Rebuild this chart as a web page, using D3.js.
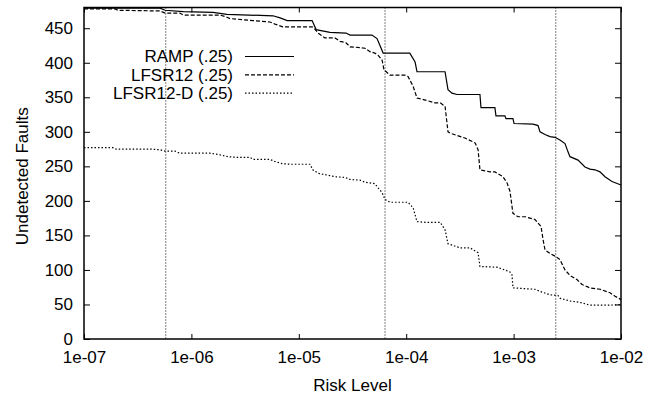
<!DOCTYPE html>
<head>
  <style>
    body { margin: 0; background: #fff; }
    text { font-family: "Liberation Sans", Arial, sans-serif; fill: #000; }
  </style>
<title>Undetected Faults vs Risk Level</title>
</head>

<body>

  <script src="https://cdn.jsdelivr.net/npm/d3@7"></script>

  <script>
    // data: [risk level, undetected faults]
    const rampData = [
      [1e-7, 479], [5.1e-7, 479], [5.7e-7, 476], [8.4e-7, 474], [1.59e-6, 473],
      [2.14e-6, 470], [5.75e-6, 468], [6.7e-6, 465], [7.8e-6, 461], [1.33e-5, 461],
      [1.45e-5, 448], [1.95e-5, 444], [2.75e-5, 443], [3.0e-5, 440], [4.8e-5, 440],
      [5.35e-5, 435], [6.1e-5, 414], [1.08e-4, 414], [1.21e-4, 401], [1.26e-4, 387],
      [2.3e-4, 387], [2.45e-4, 361], [2.67e-4, 356], [2.97e-4, 354], [4.86e-4, 354],
      [4.97e-4, 335], [6.7e-4, 335], [6.85e-4, 323], [8.3e-4, 323], [8.5e-4, 319],
      [9.86e-4, 319], [1.01e-3, 312], [1.52e-3, 311], [1.69e-3, 309], [1.76e-3, 300],
      [1.96e-3, 296], [2.18e-3, 293], [2.43e-3, 292], [2.7e-3, 288], [3.01e-3, 283],
      [3.21e-3, 271], [3.35e-3, 264], [3.98e-3, 259], [4.62e-3, 249], [5.14e-3, 246],
      [5.73e-3, 245], [6.37e-3, 242], [7.1e-3, 235], [8.24e-3, 228], [1e-2, 223]
    ];

    const lfsrData = [
      [1e-7, 478], [1.95e-7, 478], [2.07e-7, 476], [5.1e-7, 475], [5.7e-7, 472],
      [7.8e-7, 472], [8.4e-7, 469], [1.85e-6, 469], [2.06e-6, 467], [2.29e-6, 464],
      [3.75e-6, 461], [5.4e-6, 459], [6.0e-6, 456], [7.1e-6, 452], [1.33e-5, 452],
      [1.39e-5, 450], [1.51e-5, 443], [1.75e-5, 436], [2.17e-5, 436], [2.42e-5, 431],
      [2.75e-5, 429], [3.0e-5, 423], [3.72e-5, 422], [4.13e-5, 421], [4.6e-5, 416],
      [5.1e-5, 414], [5.46e-5, 411], [5.96e-5, 404], [6.2e-5, 390], [7.06e-5, 382],
      [9.75e-5, 382], [1.04e-4, 380], [1.16e-4, 366], [1.26e-4, 349], [1.5e-4, 346],
      [1.85e-4, 342], [2.07e-4, 342], [2.3e-4, 337], [2.45e-4, 300], [2.56e-4, 298],
      [3.52e-4, 291], [4.38e-4, 284], [4.67e-4, 274], [4.86e-4, 245], [6.03e-4, 242],
      [6.7e-4, 242], [7.96e-4, 235], [8.69e-4, 226], [9.25e-4, 214], [9.86e-4, 182],
      [1.1e-3, 177], [1.28e-3, 177], [1.58e-3, 173], [1.8e-3, 163], [1.88e-3, 144],
      [1.96e-3, 129], [2.18e-3, 124], [2.43e-3, 120], [2.7e-3, 115], [3.01e-3, 100],
      [3.35e-3, 92], [3.89e-3, 86], [4.34e-3, 79], [5.14e-3, 74], [6.37e-3, 72],
      [7.9e-3, 67], [8.8e-3, 62], [1e-2, 57]
    ];

    const lfsrDData = [
      [1e-7, 277], [1.86e-7, 277], [1.99e-7, 275], [4.12e-7, 275], [5.1e-7, 274],
      [5.7e-7, 272], [7.03e-7, 272], [7.8e-7, 269], [1.49e-6, 269], [1.66e-6, 268],
      [1.93e-6, 266], [2.19e-6, 264], [2.66e-6, 263], [3.52e-6, 263], [3.75e-6, 260],
      [5.4e-6, 260], [6.0e-6, 257], [6.98e-6, 254], [8.28e-6, 253], [1.27e-5, 253],
      [1.35e-5, 245], [1.51e-5, 240], [1.75e-5, 238], [2.17e-5, 235], [2.69e-5, 234],
      [3.0e-5, 231], [3.72e-5, 230], [4.13e-5, 227], [5.1e-5, 225], [5.46e-5, 219],
      [5.96e-5, 212], [6.35e-5, 202], [7.06e-5, 198], [1.04e-4, 198], [1.16e-4, 190],
      [1.26e-4, 170], [1.5e-4, 169], [2.07e-4, 169], [2.3e-4, 158], [2.45e-4, 138],
      [3.17e-4, 132], [3.93e-4, 132], [4.67e-4, 125], [4.86e-4, 105], [7.0e-4, 104],
      [8.3e-4, 100], [9.25e-4, 97], [9.66e-4, 93], [9.86e-4, 74], [1.58e-3, 72],
      [1.76e-3, 69], [2.18e-3, 64], [2.59e-3, 63], [2.7e-3, 59], [3.35e-3, 55],
      [4.15e-3, 53], [5.14e-3, 49], [7.9e-3, 49], [1e-2, 50]
    ];

    // vertical reference lines
    const markerRisks = [5.77e-7, 6.35e-5, 2.47e-3];

    const seriesNames = ["RAMP (.25)", "LFSR12 (.25)", "LFSR12-D (.25)"];
    const xTicks = [1e-7, 1e-6, 1e-5, 1e-4, 1e-3, 1e-2];
    const xTickLabels = ["1e-07", "1e-06", "1e-05", "1e-04", "1e-03", "1e-02"];
    const yTicks = [0, 50, 100, 150, 200, 250, 300, 350, 400, 450];

    // dimensions
    const margin = { top: 7.5, right: 35, bottom: 55, left: 84 };
    const width = 656 - margin.left - margin.right;
    const height = 394 - margin.top - margin.bottom;

    const x = d3.scaleLog().domain([1e-7, 1e-2]).range([0, width]);
    const y = d3.scaleLinear().domain([0, 480]).range([height, 0]);

    const svg = d3.select("body").append("svg")
      .attr("width", 656)
      .attr("height", 394)
      .append("g")
      .attr("transform", `translate(${margin.left},${margin.top})`);

    // vertical dotted lines
    svg.selectAll(".marker")
      .data(markerRisks)
      .enter()
      .append("line")
      .attr("x1", d => x(d)).attr("x2", d => x(d))
      .attr("y1", 0).attr("y2", height)
      .attr("stroke", "#000")
      .attr("stroke-width", 1)
      .attr("stroke-dasharray", "1,2");

    // axes (ticks point inward, mirrored on top/right)
    const fontSize = 17;
    svg.append("g")
      .attr("transform", `translate(0,${height})`)
      .call(d3.axisBottom(x).tickValues(xTicks)
        .tickFormat((d, i) => xTickLabels[i]).tickSize(-5).tickPadding(12));
    svg.append("g")
      .call(d3.axisTop(x).tickValues(xTicks).tickFormat("").tickSize(-5));
    svg.append("g")
      .call(d3.axisLeft(y).tickValues(yTicks).tickSize(-6).tickPadding(11));
    svg.append("g")
      .attr("transform", `translate(${width},0)`)
      .call(d3.axisRight(y).tickValues(yTicks).tickFormat("").tickSize(-6));

    svg.selectAll(".domain").remove();
    svg.selectAll(".tick line").attr("stroke", "#000").attr("stroke-width", 1);
    svg.selectAll(".tick text")
      .style("font-size", fontSize + "px")
      .style("font-family", '"Liberation Sans", Arial, sans-serif')
      .attr("fill", "#000");

    // frame
    svg.append("rect")
      .attr("width", width)
      .attr("height", height)
      .attr("fill", "none")
      .attr("stroke", "#000")
      .attr("stroke-width", 1.5);

    // series
    const line = d3.line().x(d => x(d[0])).y(d => y(d[1]));
    const series = [
      { data: rampData, dash: null },
      { data: lfsrData, dash: "4,2" },
      { data: lfsrDData, dash: "1.5,2" }
    ];

    series.forEach((s) => {
      svg.append("path")
        .datum(s.data)
        .attr("fill", "none")
        .attr("stroke", "#000")
        .attr("stroke-width", 1.2)
        .attr("stroke-dasharray", s.dash)
        .attr("d", line);
    });

    // legend
    const legend = svg.append("g");
    series.forEach((s, i) => {
      const ly = 49 + i * 18.3;
      legend.append("text")
        .attr("x", 233 - margin.left)
        .attr("y", ly)
        .attr("dy", "0.35em")
        .style("text-anchor", "end")
        .style("font-size", fontSize + "px")
        .text(seriesNames[i]);
      legend.append("line")
        .attr("x1", 245 - margin.left).attr("x2", 294 - margin.left)
        .attr("y1", ly).attr("y2", ly)
        .attr("stroke", "#000")
        .attr("stroke-width", 1.2)
        .attr("stroke-dasharray", s.dash);
    });

    // axis labels
    svg.append("text")
      .attr("x", width / 2)
      .attr("y", height + 52)
      .style("text-anchor", "middle")
      .style("font-size", fontSize + "px")
      .text("Risk Level");

    svg.append("text")
      .attr("transform", "rotate(-90)")
      .attr("x", -height / 2 - 3)
      .attr("y", -56)
      .style("text-anchor", "middle")
      .style("font-size", fontSize + "px")
      .text("Undetected Faults");
  </script>

</body>
